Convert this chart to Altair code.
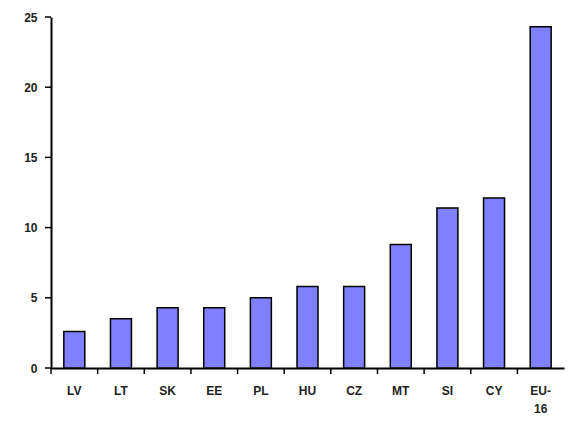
import altair as alt
import pandas as pd

countries = ["LV", "LT", "SK", "EE", "PL", "HU", "CZ", "MT", "SI", "CY", "EU-16"]
values = [2.6, 3.5, 4.3, 4.3, 5.0, 5.8, 5.8, 8.8, 11.4, 12.1, 24.3]
y_ticks = [0, 5, 10, 15, 20, 25]

df = pd.DataFrame({"country": countries, "value": values})
ydf = pd.DataFrame({"value": y_ticks})

xscale = alt.Scale(paddingInner=0.55, paddingOuter=0.275)
yscale = alt.Scale(domain=[0, 25])

xaxis = alt.Axis(labelAngle=0, ticks=False,
                 labelPadding=17, labelLineHeight=18,
                 labelExpr="datum.label == 'EU-16' ? ['EU-', '16'] : datum.label")
yaxis = alt.Axis(values=y_ticks, grid=False, ticks=False, labelPadding=14)

bars = alt.Chart(df).mark_bar(
    color="#8080ff", stroke="black", strokeWidth=1.5
).encode(
    x=alt.X("country:N", sort=countries, title=None, scale=xscale, axis=xaxis),
    y=alt.Y("value:Q", title=None, scale=yscale, axis=yaxis),
)

xticks = alt.Chart(df).mark_rule(color="black", strokeWidth=1.5, xOffset=-12.8).encode(
    x=alt.X("country:N", sort=countries, title=None, scale=xscale, bandPosition=0, axis=xaxis),
    y=alt.value(351), y2=alt.value(357),
)

yticks = alt.Chart(ydf).mark_rule(color="black", strokeWidth=1.5).encode(
    y=alt.Y("value:Q", title=None, scale=yscale, axis=yaxis),
    x=alt.value(-6), x2=alt.value(0),
)

chart = alt.layer(bars, xticks, yticks).properties(
    width=513, height=351,
    autosize=alt.AutoSizeParams(type="none"),
    padding={"left": 43, "top": 9, "right": 5, "bottom": 52},
).configure_view(stroke=None).configure_axis(
    domainColor="#000000", domainWidth=2,
    labelFont="Liberation Sans", labelFontWeight="bold",
    labelFontSize=12, labelColor="#222222",
)

chart.save("out.html", embed_options={"renderer": "svg", "actions": False})
